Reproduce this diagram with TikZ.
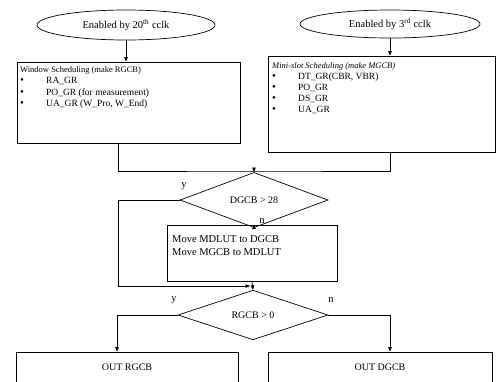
\documentclass[tikz,border=0pt]{standalone}
\usepackage{fontspec}
\setmainfont{Liberation Serif}
\usetikzlibrary{shapes.geometric,arrows.meta}

\newcommand{\bul}{\makebox[26pt][l]{\fontsize{11}{11}\selectfont\textbullet}}

\begin{document}
\begin{tikzpicture}[
    x=1pt, y=-1pt,
    startnode/.style={
        ellipse,
        draw,
        line width=0.7pt,
        inner sep=0pt,
        minimum width=178pt,
        minimum height=30pt,
        font=\fontsize{10.5}{12}\selectfont
    },
    proc/.style={
        rectangle,
        draw,
        line width=0.7pt,
        inner sep=0pt
    },
    items/.style={
        align=left,
        inner sep=0pt,
        anchor=north west,
        font=\fontsize{9.5}{11.5}\selectfont
    },
    decision/.style={
        diamond,
        draw,
        line width=0.7pt,
        inner sep=0pt,
        minimum width=148pt,
        minimum height=38pt,
        font=\fontsize{10}{11}\selectfont
    },
    flag/.style={
        inner sep=0pt,
        font=\fontsize{10.5}{12}\selectfont
    },
    conn/.style={
        -{Triangle[length=4.5pt,width=3.5pt]},
        line width=0.7pt
    }
]

\useasboundingbox (0,0) rectangle (496,381);
\clip (0,0) rectangle (496,381);

% Disparadores
\node[startnode] (clk20) at (126,25) {Enabled by 20\textsuperscript{th} cclk};
\node[startnode, minimum width=180pt, minimum height=28pt] (clk3) at (390,24)
      {Enabled by 3\textsuperscript{rd} cclk};

% Planificadores
\node[proc, minimum width=223pt, minimum height=81pt] (win) at (128.5,102.5) {};
\node[items] (winlist) at (20,66) {
    {\fontsize{8.5}{11.5}\selectfont Window Scheduling (make RGCB)}\\
    \bul RA\_GR\\
    \bul PO\_GR (for measurement)\\
    \bul UA\_GR (W\_Pro, W\_End)
};

\node[proc, minimum width=227pt, minimum height=96pt] (slot) at (381.5,104) {};
\node[items, font=\fontsize{9.5}{11}\selectfont] (slotlist) at (272,62) {
    {\fontsize{8.5}{11}\selectfont\itshape Mini-slot Scheduling (make MGCB)}\\
    \bul DT\_GR(CBR, VBR)\\
    \bul PO\_GR\\
    \bul DS\_GR\\
    \bul UA\_GR
};

\draw[conn] (clk20.south) -- (clk20.south |- win.north);
\draw[conn] (clk3.south) -- (clk3.south |- slot.north);

% Union
\coordinate (join) at (254,171);
\draw[line width=0.7pt] ([xshift=-10.5pt]win.south) |- (join) -| ([xshift=8.5pt]slot.south);

% Primera decision
\node[decision] (big) at (254,200) {DGCB > 28};
\draw[conn] (join) -- (big.north);
\node[flag] (ybig) at (184,186) {y};

\node[proc, minimum width=170pt, minimum height=56pt] (move) at (252,253) {};
\node[items, font=\fontsize{10.5}{13}\selectfont] (movetxt) at (172,235) {
    Move MDLUT to DGCB\\
    Move MGCB to MDLUT
};
\draw[conn] (big.south) -- (big.south |- move.north);
\node[flag] (nbig) at (262,221) {n};

% Segunda decision
\node[decision, minimum width=150pt] (pos) at (253,315) {RGCB > 0};
\draw[conn] (move.south) -- (pos.north);

\coordinate (loop) at (118,286);
\draw[conn] (big.west) -| (loop) -- ([xshift=-2pt]move.south |- loop);

\node[flag] (ypos) at (174,300) {y};
\node[flag] (npos) at (331,300) {n};

% Salidas
\node[proc, minimum width=222pt, minimum height=30pt] (outr) at (127,367) {OUT RGCB};
\node[proc, minimum width=224pt, minimum height=30pt] (outd) at (380,367) {OUT DGCB};

\draw[conn] (pos.west) -| ([xshift=-10pt]outr.north);
\draw[conn] (pos.east) -| ([xshift=10pt]outd.north);

\end{tikzpicture}
\end{document}
